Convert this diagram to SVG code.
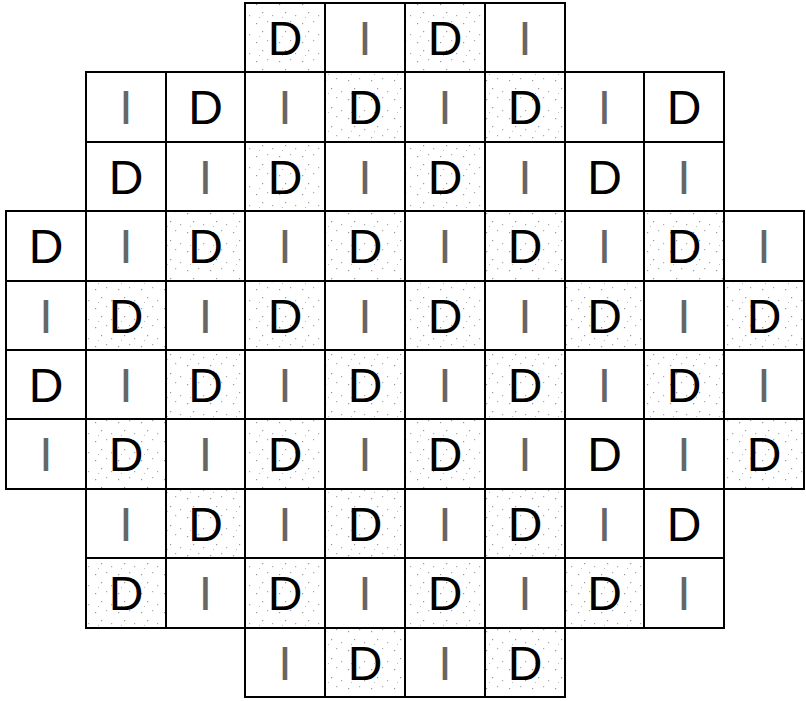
<svg xmlns="http://www.w3.org/2000/svg" width="806" height="701" viewBox="0 0 806 701">
<defs>
<pattern id="spk" width="23" height="19" patternUnits="userSpaceOnUse">
<rect width="23" height="19" fill="#fff"/>
<rect x="3" y="4" width="1.2" height="1.2" fill="#999"/>
<rect x="14" y="2" width="1.2" height="1.2" fill="#aaa"/>
<rect x="9" y="12" width="1.2" height="1.2" fill="#999"/>
<rect x="19" y="15" width="1.2" height="1.2" fill="#aaa"/>
<rect x="6" y="17" width="1" height="1" fill="#bbb"/>
</pattern>
</defs>
<style>
rect.c{fill:#fff;stroke:#000;stroke-width:2}
rect.s{fill:url(#spk);stroke:#000;stroke-width:2}
text{font-family:"Liberation Sans",Arial,sans-serif;font-size:48px;text-anchor:middle}
text.d{fill:#000}
text.i{fill:#666}
</style>
<rect width="806" height="701" fill="#fff"/>
<g id="connectors"></g>
<!-- row 1 -->
<g id="r1c4"><rect class="s" x="245" y="3" width="80" height="69"/><text class="d" x="285" y="54.5">D</text></g>
<g id="r1c5"><rect class="c" x="325" y="3" width="80" height="69"/><text class="i" x="365" y="54.5">I</text></g>
<g id="r1c6"><rect class="s" x="405" y="3" width="80" height="69"/><text class="d" x="445" y="54.5">D</text></g>
<g id="r1c7"><rect class="c" x="485" y="3" width="80" height="69"/><text class="i" x="525" y="54.5">I</text></g>
<!-- row 2 -->
<g id="r2c2"><rect class="c" x="86" y="72" width="80" height="70"/><text class="i" x="126" y="124">I</text></g>
<g id="r2c3"><rect class="c" x="166" y="72" width="79" height="70"/><text class="d" x="205.5" y="124">D</text></g>
<g id="r2c4"><rect class="c" x="245" y="72" width="80" height="70"/><text class="i" x="285" y="124">I</text></g>
<g id="r2c5"><rect class="s" x="325" y="72" width="80" height="70"/><text class="d" x="365" y="124">D</text></g>
<g id="r2c6"><rect class="c" x="405" y="72" width="80" height="70"/><text class="i" x="445" y="124">I</text></g>
<g id="r2c7"><rect class="s" x="485" y="72" width="80" height="70"/><text class="d" x="525" y="124">D</text></g>
<g id="r2c8"><rect class="c" x="565" y="72" width="79" height="70"/><text class="i" x="604.5" y="124">I</text></g>
<g id="r2c9"><rect class="c" x="644" y="72" width="80" height="70"/><text class="d" x="684" y="124">D</text></g>
<!-- row 3 -->
<g id="r3c2"><rect class="c" x="86" y="142" width="80" height="69"/><text class="d" x="126" y="193.5">D</text></g>
<g id="r3c3"><rect class="c" x="166" y="142" width="79" height="69"/><text class="i" x="205.5" y="193.5">I</text></g>
<g id="r3c4"><rect class="s" x="245" y="142" width="80" height="69"/><text class="d" x="285" y="193.5">D</text></g>
<g id="r3c5"><rect class="c" x="325" y="142" width="80" height="69"/><text class="i" x="365" y="193.5">I</text></g>
<g id="r3c6"><rect class="s" x="405" y="142" width="80" height="69"/><text class="d" x="445" y="193.5">D</text></g>
<g id="r3c7"><rect class="c" x="485" y="142" width="80" height="69"/><text class="i" x="525" y="193.5">I</text></g>
<g id="r3c8"><rect class="c" x="565" y="142" width="79" height="69"/><text class="d" x="604.5" y="193.5">D</text></g>
<g id="r3c9"><rect class="c" x="644" y="142" width="80" height="69"/><text class="i" x="684" y="193.5">I</text></g>
<!-- row 4 -->
<g id="r4c1"><rect class="c" x="6" y="211" width="80" height="70"/><text class="d" x="46" y="263">D</text></g>
<g id="r4c2"><rect class="c" x="86" y="211" width="80" height="70"/><text class="i" x="126" y="263">I</text></g>
<g id="r4c3"><rect class="s" x="166" y="211" width="79" height="70"/><text class="d" x="205.5" y="263">D</text></g>
<g id="r4c4"><rect class="c" x="245" y="211" width="80" height="70"/><text class="i" x="285" y="263">I</text></g>
<g id="r4c5"><rect class="s" x="325" y="211" width="80" height="70"/><text class="d" x="365" y="263">D</text></g>
<g id="r4c6"><rect class="c" x="405" y="211" width="80" height="70"/><text class="i" x="445" y="263">I</text></g>
<g id="r4c7"><rect class="s" x="485" y="211" width="80" height="70"/><text class="d" x="525" y="263">D</text></g>
<g id="r4c8"><rect class="c" x="565" y="211" width="79" height="70"/><text class="i" x="604.5" y="263">I</text></g>
<g id="r4c9"><rect class="s" x="644" y="211" width="80" height="70"/><text class="d" x="684" y="263">D</text></g>
<g id="r4c10"><rect class="c" x="724" y="211" width="80" height="70"/><text class="i" x="764" y="263">I</text></g>
<!-- row 5 -->
<g id="r5c1"><rect class="c" x="6" y="281" width="80" height="69"/><text class="i" x="46" y="332.5">I</text></g>
<g id="r5c2"><rect class="s" x="86" y="281" width="80" height="69"/><text class="d" x="126" y="332.5">D</text></g>
<g id="r5c3"><rect class="c" x="166" y="281" width="79" height="69"/><text class="i" x="205.5" y="332.5">I</text></g>
<g id="r5c4"><rect class="s" x="245" y="281" width="80" height="69"/><text class="d" x="285" y="332.5">D</text></g>
<g id="r5c5"><rect class="c" x="325" y="281" width="80" height="69"/><text class="i" x="365" y="332.5">I</text></g>
<g id="r5c6"><rect class="s" x="405" y="281" width="80" height="69"/><text class="d" x="445" y="332.5">D</text></g>
<g id="r5c7"><rect class="c" x="485" y="281" width="80" height="69"/><text class="i" x="525" y="332.5">I</text></g>
<g id="r5c8"><rect class="s" x="565" y="281" width="79" height="69"/><text class="d" x="604.5" y="332.5">D</text></g>
<g id="r5c9"><rect class="c" x="644" y="281" width="80" height="69"/><text class="i" x="684" y="332.5">I</text></g>
<g id="r5c10"><rect class="s" x="724" y="281" width="80" height="69"/><text class="d" x="764" y="332.5">D</text></g>
<!-- row 6 -->
<g id="r6c1"><rect class="c" x="6" y="350" width="80" height="69"/><text class="d" x="46" y="401.5">D</text></g>
<g id="r6c2"><rect class="c" x="86" y="350" width="80" height="69"/><text class="i" x="126" y="401.5">I</text></g>
<g id="r6c3"><rect class="s" x="166" y="350" width="79" height="69"/><text class="d" x="205.5" y="401.5">D</text></g>
<g id="r6c4"><rect class="c" x="245" y="350" width="80" height="69"/><text class="i" x="285" y="401.5">I</text></g>
<g id="r6c5"><rect class="s" x="325" y="350" width="80" height="69"/><text class="d" x="365" y="401.5">D</text></g>
<g id="r6c6"><rect class="c" x="405" y="350" width="80" height="69"/><text class="i" x="445" y="401.5">I</text></g>
<g id="r6c7"><rect class="s" x="485" y="350" width="80" height="69"/><text class="d" x="525" y="401.5">D</text></g>
<g id="r6c8"><rect class="c" x="565" y="350" width="79" height="69"/><text class="i" x="604.5" y="401.5">I</text></g>
<g id="r6c9"><rect class="s" x="644" y="350" width="80" height="69"/><text class="d" x="684" y="401.5">D</text></g>
<g id="r6c10"><rect class="c" x="724" y="350" width="80" height="69"/><text class="i" x="764" y="401.5">I</text></g>
<!-- row 7 -->
<g id="r7c1"><rect class="c" x="6" y="419" width="80" height="70"/><text class="i" x="46" y="471">I</text></g>
<g id="r7c2"><rect class="s" x="86" y="419" width="80" height="70"/><text class="d" x="126" y="471">D</text></g>
<g id="r7c3"><rect class="c" x="166" y="419" width="79" height="70"/><text class="i" x="205.5" y="471">I</text></g>
<g id="r7c4"><rect class="s" x="245" y="419" width="80" height="70"/><text class="d" x="285" y="471">D</text></g>
<g id="r7c5"><rect class="c" x="325" y="419" width="80" height="70"/><text class="i" x="365" y="471">I</text></g>
<g id="r7c6"><rect class="s" x="405" y="419" width="80" height="70"/><text class="d" x="445" y="471">D</text></g>
<g id="r7c7"><rect class="c" x="485" y="419" width="80" height="70"/><text class="i" x="525" y="471">I</text></g>
<g id="r7c8"><rect class="c" x="565" y="419" width="79" height="70"/><text class="d" x="604.5" y="471">D</text></g>
<g id="r7c9"><rect class="c" x="644" y="419" width="80" height="70"/><text class="i" x="684" y="471">I</text></g>
<g id="r7c10"><rect class="s" x="724" y="419" width="80" height="70"/><text class="d" x="764" y="471">D</text></g>
<!-- row 8 -->
<g id="r8c2"><rect class="c" x="86" y="489" width="80" height="69"/><text class="i" x="126" y="540.5">I</text></g>
<g id="r8c3"><rect class="s" x="166" y="489" width="79" height="69"/><text class="d" x="205.5" y="540.5">D</text></g>
<g id="r8c4"><rect class="c" x="245" y="489" width="80" height="69"/><text class="i" x="285" y="540.5">I</text></g>
<g id="r8c5"><rect class="s" x="325" y="489" width="80" height="69"/><text class="d" x="365" y="540.5">D</text></g>
<g id="r8c6"><rect class="c" x="405" y="489" width="80" height="69"/><text class="i" x="445" y="540.5">I</text></g>
<g id="r8c7"><rect class="s" x="485" y="489" width="80" height="69"/><text class="d" x="525" y="540.5">D</text></g>
<g id="r8c8"><rect class="c" x="565" y="489" width="79" height="69"/><text class="i" x="604.5" y="540.5">I</text></g>
<g id="r8c9"><rect class="c" x="644" y="489" width="80" height="69"/><text class="d" x="684" y="540.5">D</text></g>
<!-- row 9 -->
<g id="r9c2"><rect class="s" x="86" y="558" width="80" height="70"/><text class="d" x="126" y="610">D</text></g>
<g id="r9c3"><rect class="c" x="166" y="558" width="79" height="70"/><text class="i" x="205.5" y="610">I</text></g>
<g id="r9c4"><rect class="s" x="245" y="558" width="80" height="70"/><text class="d" x="285" y="610">D</text></g>
<g id="r9c5"><rect class="c" x="325" y="558" width="80" height="70"/><text class="i" x="365" y="610">I</text></g>
<g id="r9c6"><rect class="s" x="405" y="558" width="80" height="70"/><text class="d" x="445" y="610">D</text></g>
<g id="r9c7"><rect class="c" x="485" y="558" width="80" height="70"/><text class="i" x="525" y="610">I</text></g>
<g id="r9c8"><rect class="s" x="565" y="558" width="79" height="70"/><text class="d" x="604.5" y="610">D</text></g>
<g id="r9c9"><rect class="c" x="644" y="558" width="80" height="70"/><text class="i" x="684" y="610">I</text></g>
<!-- row 10 -->
<g id="r10c4"><rect class="c" x="245" y="628" width="80" height="69"/><text class="i" x="285" y="679.5">I</text></g>
<g id="r10c5"><rect class="s" x="325" y="628" width="80" height="69"/><text class="d" x="365" y="679.5">D</text></g>
<g id="r10c6"><rect class="c" x="405" y="628" width="80" height="69"/><text class="i" x="445" y="679.5">I</text></g>
<g id="r10c7"><rect class="s" x="485" y="628" width="80" height="69"/><text class="d" x="525" y="679.5">D</text></g>
</svg>
